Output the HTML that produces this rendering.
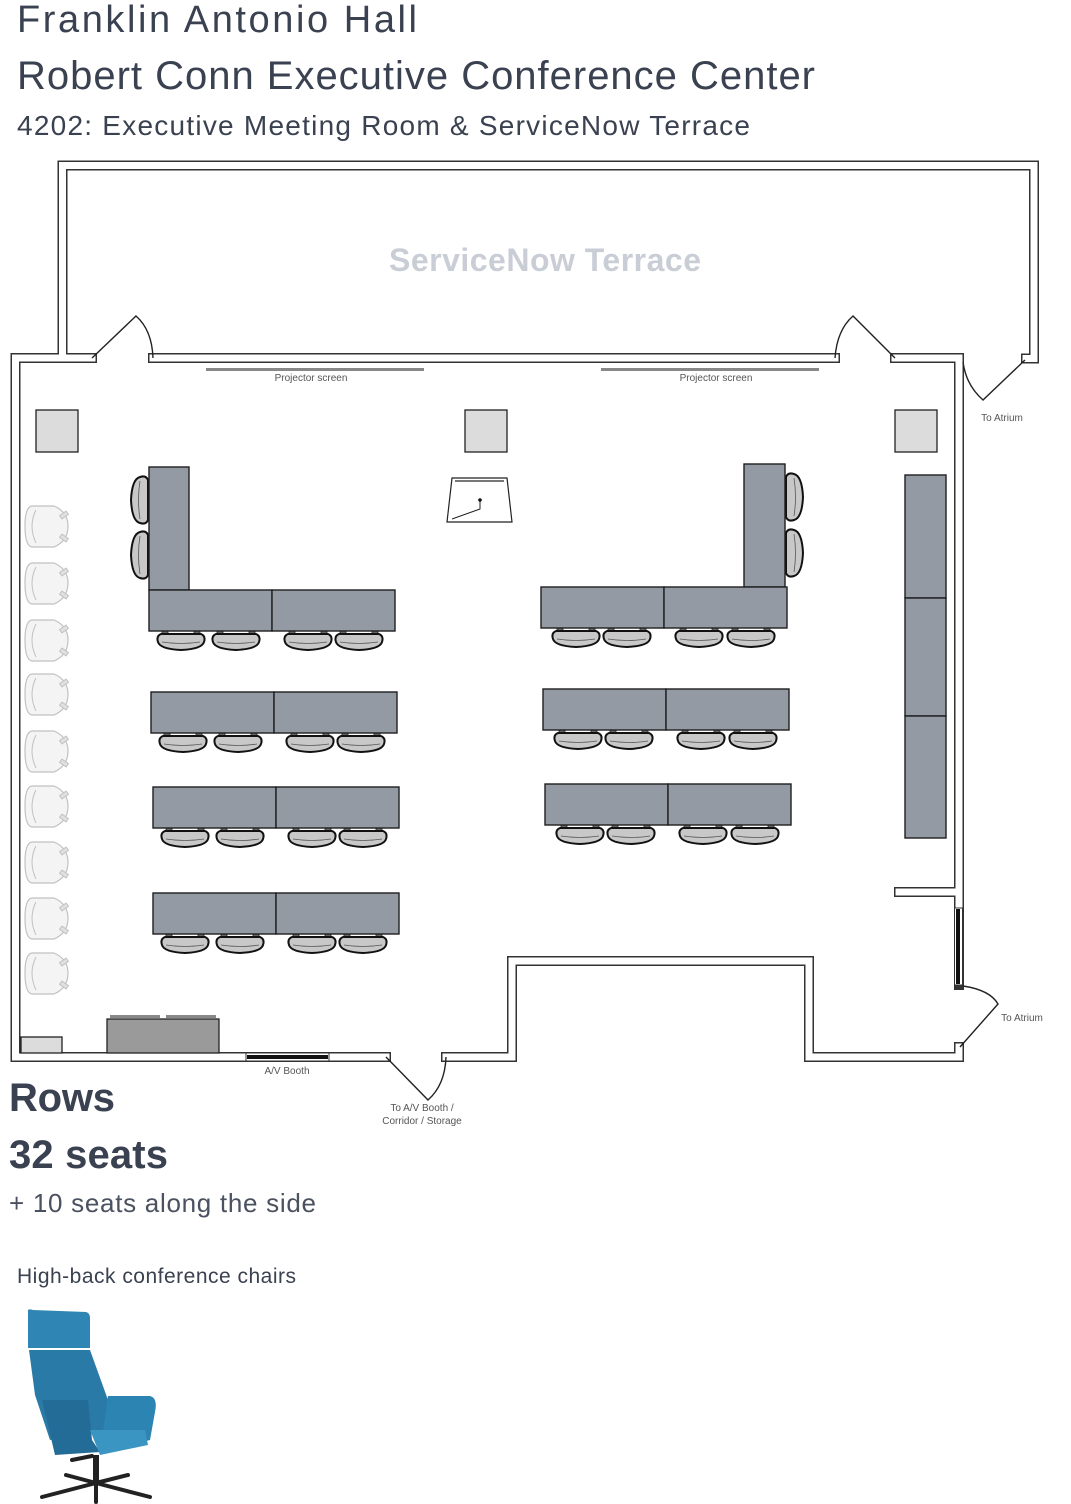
<!DOCTYPE html>
<html><head><meta charset="utf-8"><style>
html,body{margin:0;padding:0;background:#fff}
svg{display:block;font-family:"Liberation Sans",sans-serif}
</style></head><body>
<svg width="1071" height="1504" viewBox="0 0 1071 1504" xmlns="http://www.w3.org/2000/svg">
<defs>
<g id="cb">
 <rect x="4" y="-2" width="6" height="5" fill="#666" stroke="#222" stroke-width="0.8"/>
 <rect x="36" y="-2" width="6" height="5" fill="#666" stroke="#222" stroke-width="0.8"/>
 <path d="M3,3 H43 Q48,5 46,11 Q44,18 23,19 Q2,18 0,11 Q-2,5 3,3 Z" fill="#c8c8c8" stroke="#111" stroke-width="2"/>
 <path d="M4,11 Q23,14 42,11" fill="none" stroke="#555" stroke-width="0.8"/>
</g>
<g id="cl">
 <rect x="18" y="4" width="5" height="6" fill="#666" stroke="#222" stroke-width="0.8"/>
 <rect x="18" y="36" width="5" height="6" fill="#666" stroke="#222" stroke-width="0.8"/>
 <path d="M18,3 V43 Q16,48 10,46 Q2,44 1,23 Q2,2 10,0 Q16,-2 18,3 Z" fill="#c8c8c8" stroke="#111" stroke-width="2"/>
 <path d="M10,4 Q7,23 10,42" fill="none" stroke="#555" stroke-width="0.8"/>
</g>
<g id="cs" opacity="0.6">
 <path d="M8,2 H30 Q44,8 44,22 Q44,37 30,43 H8 Q1,42 1,22 Q1,3 8,2 Z" fill="#eee" stroke="#999" stroke-width="1.2"/>
 <path d="M12,6 Q4,22 12,39" fill="none" stroke="#999"/>
 <rect x="36" y="9" width="8" height="4" transform="rotate(-35 40 11)" fill="#ccc" stroke="#999"/>
 <rect x="36" y="32" width="8" height="4" transform="rotate(35 40 34)" fill="#ccc" stroke="#999"/>
</g>
</defs>

<g fill="#3a4150">
<text x="17" y="32" font-size="38" textLength="400">Franklin Antonio Hall</text>
<text x="17" y="89" font-size="40" textLength="798">Robert Conn Executive Conference Center</text>
<text x="17" y="135" font-size="28" textLength="733">4202: Executive Meeting Room &amp; ServiceNow Terrace</text>
</g>
<text x="545" y="271" font-size="32" fill="#c9ced6" text-anchor="middle" font-weight="bold" textLength="312">ServiceNow Terrace</text>

<g fill="none" stroke-linejoin="miter" stroke-linecap="square">
<g stroke="#333" stroke-width="10">
 <path d="M62.5,355 V165.5 H1034 V358.5 H1026"/>
 <path d="M92,358 H15.5 V1057 H386"/>
 <path d="M153,358 H835"/>
 <path d="M895,358 H959 V908"/>
 <path d="M959,892 H899"/>
 <path d="M446,1057 H512 V961 H809 V1057 H959 V1047"/>
 <path d="M959,985 V908"/>
</g>
<g stroke="#fff" stroke-width="7">
 <path d="M62.5,355 V165.5 H1034 V358.5 H1026"/>
 <path d="M92,358 H15.5 V1057 H386"/>
 <path d="M153,358 H835"/>
 <path d="M895,358 H959 V908"/>
 <path d="M959,892 H899"/>
 <path d="M446,1057 H512 V961 H809 V1057 H959 V1047"/>
</g>
</g>
<rect x="954.5" y="908" width="8" height="77" fill="#fff" stroke="#333" stroke-width="1"/>
<rect x="956" y="909" width="4" height="75" fill="#111"/>
<rect x="246" y="1053" width="83" height="8" fill="#fff" stroke="#333" stroke-width="1"/>
<rect x="247" y="1055" width="81" height="4" fill="#111"/>

<g fill="none" stroke="#222" stroke-width="1.4">
 <path d="M92,358 L136,316 Q152,330 153,358"/>
 <path d="M895,358 L853,316 Q837,330 835,358"/>
 <path d="M1025,360 L983,400 Q966,385 963,362"/>
 <path d="M963,986 Q990,990 998,1004 L960,1047"/>
 <path d="M386,1057 L428,1100 Q445,1085 446,1057"/>
</g>
<g font-size="10" fill="#555">
<text x="1002" y="421" text-anchor="middle">To Atrium</text>
<text x="1022" y="1021" text-anchor="middle">To Atrium</text>
<text x="287" y="1074" text-anchor="middle">A/V Booth</text>
<text x="422" y="1111" text-anchor="middle">To A/V Booth /</text>
<text x="422" y="1124" text-anchor="middle">Corridor / Storage</text>
<text x="311" y="381" text-anchor="middle">Projector screen</text>
<text x="716" y="381" text-anchor="middle">Projector screen</text>
</g>
<rect x="206" y="368" width="218" height="3" fill="#888"/>
<rect x="601" y="368" width="218" height="3" fill="#888"/>

<g fill="#dcdcdc" stroke="#222" stroke-width="1.3">
<rect x="36" y="410" width="42" height="42"/>
<rect x="465" y="410" width="42" height="42"/>
<rect x="895" y="410" width="42" height="42"/>
<rect x="21" y="1037" width="41" height="16"/>
</g>
<rect x="110" y="1015" width="50" height="3" fill="#888"/>
<rect x="166" y="1015" width="50" height="3" fill="#888"/>
<rect x="107" y="1019" width="112" height="34" fill="#9a9a9a" stroke="#222" stroke-width="1.3"/>

<path d="M452,478 L507,478 L512,522 L447,522 Z" fill="#fff" stroke="#222" stroke-width="1.2"/>
<line x1="455" y1="481" x2="504" y2="481" stroke="#777" stroke-width="2"/>
<path d="M452,519 L480,509 V500" fill="none" stroke="#222" stroke-width="1"/>
<circle cx="480" cy="500" r="1.8" fill="#111"/>

<g>
<use href="#cb" x="158" y="631"/><use href="#cb" x="213" y="631"/><use href="#cb" x="285" y="631"/><use href="#cb" x="336" y="631"/>
<use href="#cb" x="160" y="733"/><use href="#cb" x="215" y="733"/><use href="#cb" x="287" y="733"/><use href="#cb" x="338" y="733"/>
<use href="#cb" x="162" y="828"/><use href="#cb" x="217" y="828"/><use href="#cb" x="289" y="828"/><use href="#cb" x="340" y="828"/>
<use href="#cb" x="162" y="934"/><use href="#cb" x="217" y="934"/><use href="#cb" x="289" y="934"/><use href="#cb" x="340" y="934"/>
<use href="#cb" x="553" y="628"/><use href="#cb" x="604" y="628"/><use href="#cb" x="676" y="628"/><use href="#cb" x="728" y="628"/>
<use href="#cb" x="555" y="730"/><use href="#cb" x="606" y="730"/><use href="#cb" x="678" y="730"/><use href="#cb" x="730" y="730"/>
<use href="#cb" x="557" y="825"/><use href="#cb" x="608" y="825"/><use href="#cb" x="680" y="825"/><use href="#cb" x="732" y="825"/>
<use href="#cl" x="130" y="477"/><use href="#cl" x="130" y="532"/>
<use href="#cl" transform="translate(804 474) scale(-1 1)"/><use href="#cl" transform="translate(804 530) scale(-1 1)"/>
</g>

<g fill="#939aa4" stroke="#1e1e1e" stroke-width="1.4">
<rect x="149" y="467" width="40" height="123"/>
<rect x="149" y="590" width="123" height="41"/><rect x="272" y="590" width="123" height="41"/>
<rect x="151" y="692" width="123" height="41"/><rect x="274" y="692" width="123" height="41"/>
<rect x="153" y="787" width="123" height="41"/><rect x="276" y="787" width="123" height="41"/>
<rect x="153" y="893" width="123" height="41"/><rect x="276" y="893" width="123" height="41"/>
<rect x="744" y="464" width="41" height="123"/>
<rect x="541" y="587" width="123" height="41"/><rect x="664" y="587" width="123" height="41"/>
<rect x="543" y="689" width="123" height="41"/><rect x="666" y="689" width="123" height="41"/>
<rect x="545" y="784" width="123" height="41"/><rect x="668" y="784" width="123" height="41"/>
<rect x="905" y="475" width="41" height="123"/><rect x="905" y="598" width="41" height="118"/><rect x="905" y="716" width="41" height="122"/>
</g>

<g>
<use href="#cs" x="24" y="504"/><use href="#cs" x="24" y="561"/><use href="#cs" x="24" y="618"/>
<use href="#cs" x="24" y="672"/><use href="#cs" x="24" y="729"/><use href="#cs" x="24" y="784"/>
<use href="#cs" x="24" y="840"/><use href="#cs" x="24" y="896"/><use href="#cs" x="24" y="951"/>
</g>

<text x="9" y="1111" font-size="40" fill="#3a4150" font-weight="bold" textLength="106">Rows</text>
<text x="9" y="1168" font-size="40" fill="#3a4150" font-weight="bold" textLength="159">32 seats</text>
<text x="9" y="1212" font-size="26" fill="#4a5160" textLength="307">+ 10 seats along the side</text>
<text x="17" y="1283" font-size="21" fill="#3a4150" textLength="279">High-back conference chairs</text>

<g>
 <path d="M28,1312 Q27,1308 33,1310 L86,1312 Q90,1313 90,1318 V1348 L28,1348 Z" fill="#2f86b4"/>
 <path d="M29,1350 L90,1350 L108,1400 L112,1430 L50,1440 L35,1395 Z" fill="#2a7aa7"/>
 <path d="M42,1400 L88,1400 L92,1440 L100,1452 L55,1455 Z" fill="#236c97"/>
 <path d="M108,1396 L150,1396 Q158,1398 155,1412 L150,1440 L100,1452 Z" fill="#2c84b2"/>
 <path d="M90,1430 L145,1430 L148,1445 L100,1455 Z" fill="#3b95c2"/>
 <rect x="93" y="1455" width="6" height="30" fill="#222"/>
 <g stroke="#222" stroke-width="4" stroke-linecap="round">
  <line x1="96" y1="1483" x2="42" y2="1497"/><line x1="96" y1="1483" x2="150" y2="1497"/>
  <line x1="96" y1="1483" x2="66" y2="1475"/><line x1="96" y1="1483" x2="128" y2="1475"/>
  <line x1="96" y1="1483" x2="96" y2="1502"/><line x1="72" y1="1460" x2="92" y2="1456"/>
 </g>
</g>
</svg>
</body></html>
